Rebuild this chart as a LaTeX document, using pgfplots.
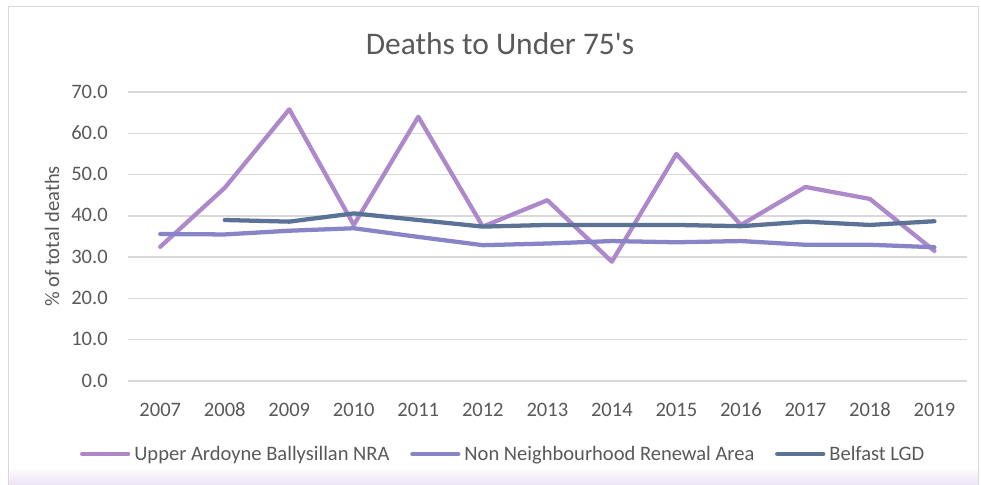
\documentclass[border=0pt]{standalone}
\usepackage{fontspec}
\setmainfont{Carlito}
\newfontfamily\plainfont{Carlito}
\usepackage{pgfplots}
\pgfplotsset{compat=1.18}
\definecolor{txt}{HTML}{595959}
\definecolor{gridc}{HTML}{D9D9D9}
\definecolor{cUA}{HTML}{AD88CA}
\definecolor{cNN}{HTML}{8884C8}
\definecolor{cBL}{HTML}{5B7297}
\definecolor{lav}{HTML}{EDE4F6}
\begin{document}
\begin{tikzpicture}
\path[use as bounding box] (0,0) rectangle (735.75pt,-363.75pt);
\fill[white] (0,0) rectangle (735.75pt,-363.75pt);
\shade[top color=white, bottom color=lav] (6pt,-350pt) rectangle (733.5pt,-363.75pt);
\draw[gridc, line width=0.75pt] (6pt,-363.75pt) -- (6pt,-5.25pt) -- (733.5pt,-5.25pt) -- (733.5pt,-363.75pt);
\node[anchor=base, text=txt, font=\plainfont\fontsize{23.6pt}{28pt}\selectfont, inner sep=0pt] at (375pt,-41.25pt) {Deaths to Under 75's};
\begin{axis}[
  at={(96pt,-285.75pt)}, anchor=south west,
  scale only axis, width=629pt, height=216.75pt,
  xmin=-0.5, xmax=12.5, ymin=0, ymax=70,
  xtick={0,...,12},
  xticklabels={2007,2008,2009,2010,2011,2012,2013,2014,2015,2016,2017,2018,2019},
  ytick={0,10,...,70},
  axis line style={draw=none},
  major tick length=0pt,
  ymajorgrids, grid style={gridc, line width=1.1pt},
  /pgf/number format/assume math mode=true,
  /pgf/number format/.cd, fixed, fixed zerofill, precision=1, /pgfplots/.cd,
  tick label style={text=txt, font=\fontsize{15.4pt}{18pt}\selectfont},
  xticklabel style={anchor=base, inner sep=0pt, yshift=-26.25pt},
  yticklabel style={anchor=base east, inner sep=0pt, xshift=-15pt, yshift=-4.5pt},
  ylabel={\% of total deaths},
  ylabel style={at={(axis description cs:-0.0906,0.5)}, anchor=center, text=txt, font=\fontsize{15.4pt}{18pt}\selectfont},
  legend columns=3,
  legend style={at={(axis description cs:-0.0575,-0.2526)}, anchor=west, draw=none, fill=none, inner sep=0pt,
    font=\fontsize{15.4pt}{18pt}\selectfont, text=txt,
    nodes={inner sep=0pt, anchor=west},
    /tikz/every odd column/.append style={column sep=3pt},
    /tikz/every even column/.append style={column sep=15.5pt}},
  legend image code/.code={\draw[#1] (0pt,0pt) -- (34.5pt,0pt);},
  every axis plot/.append style={line width=3.2pt, line cap=round, line join=round, mark=none},
]
\addplot[cUA] coordinates {(0,32.5) (1,46.8) (2,65.8) (3,37.8) (4,64.0) (5,37.4) (6,43.8) (7,28.9) (8,55.0) (9,37.8) (10,47.0) (11,44.1) (12,31.5)};
\addlegendentry{Upper Ardoyne Ballysillan NRA}
\addplot[cNN] coordinates {(0,35.6) (1,35.5) (2,36.4) (3,37.0) (4,34.9) (5,32.9) (6,33.3) (7,33.9) (8,33.6) (9,33.9) (10,33.0) (11,33.0) (12,32.4)};
\addlegendentry{Non Neighbourhood Renewal Area}
\addplot[cBL] coordinates {(1,39.0) (2,38.6) (3,40.6) (4,39.0) (5,37.4) (6,37.8) (7,37.8) (8,37.8) (9,37.5) (10,38.6) (11,37.8) (12,38.7)};
\addlegendentry{Belfast LGD}
\end{axis}
\end{tikzpicture}
\end{document}
